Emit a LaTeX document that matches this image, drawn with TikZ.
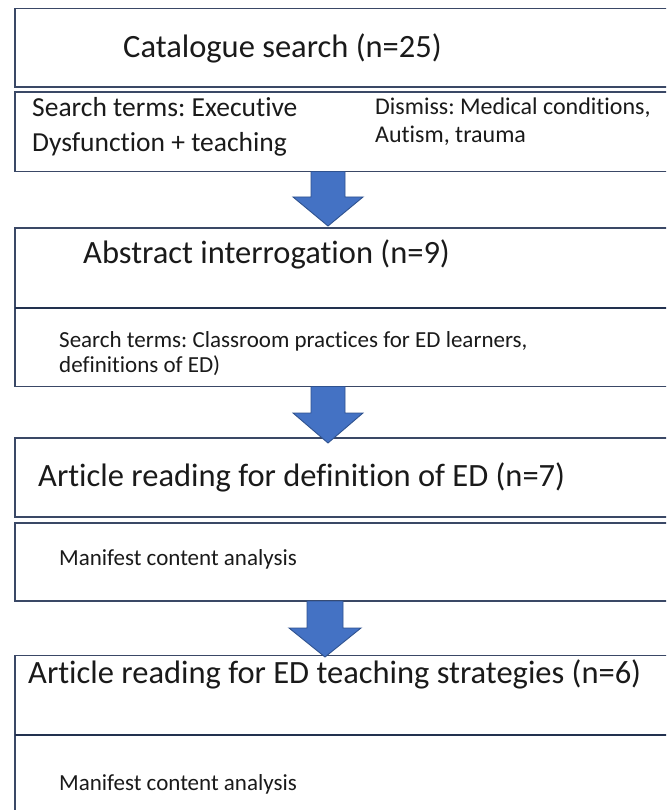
\documentclass[tikz,border=0pt]{standalone}
\usepackage{fontspec}
\setmainfont{Carlito}[Ligatures=NoCommon]
\usetikzlibrary{calc}
\frenchspacing

\definecolor{boxline}{HTML}{3A4866}
\definecolor{divline}{HTML}{22314F}
\definecolor{arrowfill}{HTML}{4472C4}
\definecolor{arrowline}{HTML}{2F528F}
\definecolor{txt}{HTML}{1A1A1A}

\tikzset{
  frame/.style={draw=boxline, line width=1.5pt, fill=white},
  divider/.style={draw=divline, line width=2.6pt},
  flowarrow/.style={fill=arrowfill, draw=arrowline, line width=0.9pt, line join=miter},
  headtext/.style={anchor=base west, inner sep=0pt, text=txt, font=\fontsize{32.5}{38}\selectfont},
  subtext/.style={anchor=base west, inner sep=0pt, text=txt, font=\fontsize{27.5}{32}\selectfont},
  sidetext/.style={anchor=base west, inner sep=0pt, text=txt, font=\fontsize{24}{28}\selectfont},
  smalltext/.style={anchor=base west, inner sep=0pt, text=txt, font=\fontsize{23}{27}\selectfont},
}

% block down arrow: name, centre x, shaft half width, shaft top, shaft bottom, tip
\newcommand{\flowdown}[6]{%
  \coordinate (#1-top) at (#2,#4);
  \coordinate (#1-tip) at (#2,#6);
  \draw[flowarrow] (#2-#3,#4) -- (#2+#3,#4) -- (#2+#3,#5) -- (#2+#3+18,#5)
    -- (#1-tip) -- (#2-#3-18,#5) -- (#2-#3,#5) -- cycle;
}

\begin{document}
\begin{tikzpicture}[x=1pt,y=-1pt]
\useasboundingbox (0,0) rectangle (666,810);
\clip (0,0) rectangle (666,810);
\fill[white] (0,0) rectangle (666,810);

% stage 1: catalogue search
\draw[frame] (15,8.5) rectangle (690,87);
\node[headtext] (t1) at (123,58) {Catalogue search (n=25)};
\draw[frame] (15,92) rectangle (690,171.5);
\node[subtext] (s1a) at (32,117) {Search terms: Executive};
\node[subtext] (s1b) at (32,152) {Dysfunction + teaching};
\node[sidetext] (d1a) at (375,115) {Dismiss: Medical conditions,};
\node[sidetext] (d1b) at (375,143) {Autism, trauma};

% stage 2: abstract interrogation
\draw[frame] (15,228) rectangle (690,386.5);
\draw[divider] (15,308) -- (690,308);
\node[headtext] (t2) at (83,263) {Abstract interrogation (n=9)};
\node[smalltext] (s2a) at (59,347) {Search terms: Classroom practices for ED learners,};
\node[smalltext] (s2b) at (59,372) {definitions of ED)};

% stage 3: article reading, definition
\draw[frame] (15,438) rectangle (690,517);
\node[headtext] (t3) at (38,486) {Article reading for definition of ED (n=7)};
\draw[frame] (15,523) rectangle (690,601);
\node[smalltext] (s3) at (59,565) {Manifest content analysis};

% stage 4: article reading, teaching strategies
\draw[frame] (15,655.5) rectangle (690,830);
\draw[divider] (15,735) -- (690,735);
\node[headtext] (t4) at (28,683) {Article reading for ED teaching strategies (n=6)};
\node[smalltext] (s4) at (59,790) {Manifest content analysis};

% arrows between stages
\flowdown{a1}{328}{17}{171.5}{197}{226}
\flowdown{a2}{328}{17}{386.5}{413}{443}
\flowdown{a3}{325}{18}{601}{628}{657}
\end{tikzpicture}
\end{document}
